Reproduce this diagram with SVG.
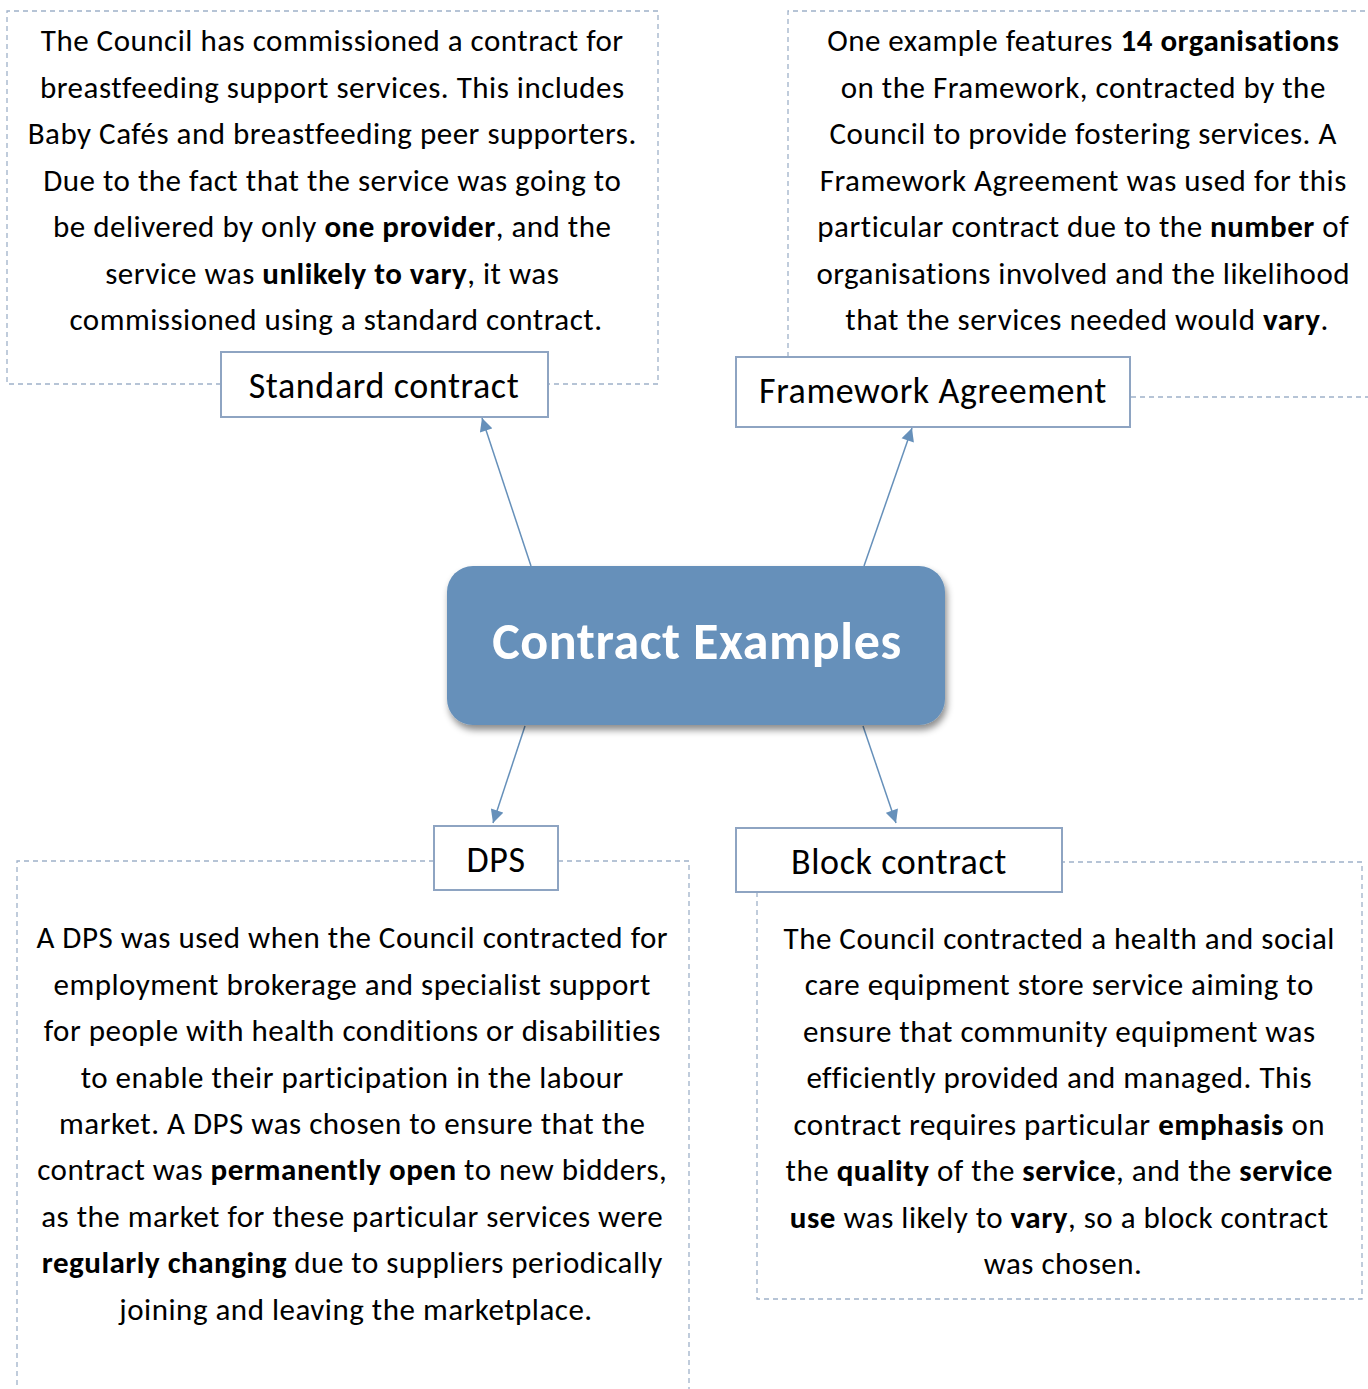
<svg xmlns="http://www.w3.org/2000/svg" width="1368" height="1389" viewBox="0 0 1368 1389">
<style>
.frame{fill:none;stroke:#9fb1c9;stroke-width:1.3;stroke-dasharray:5,4}
.node{fill:#fff;stroke:#8ea4c2;stroke-width:2}
.body{font-family:Carlito,Lato,"Liberation Sans",sans-serif;font-size:31px;letter-spacing:0.5px;fill:#000;text-anchor:middle}
.body tspan.b{font-weight:bold}
.lbl{font-family:Carlito,Lato,"Liberation Sans",sans-serif;font-size:36px;letter-spacing:0.6px;fill:#000;text-anchor:middle}
.title{font-family:Carlito,Lato,"Liberation Sans",sans-serif;font-size:52px;letter-spacing:0.6px;font-weight:bold;fill:#fff;text-anchor:middle}
.conn{stroke:#6690ba;stroke-width:1.5;fill:none;marker-end:url(#ah)}
</style>
<defs>
<marker id="ah" viewBox="0 0 10 10" refX="10" refY="5" markerWidth="15" markerHeight="13" markerUnits="userSpaceOnUse" orient="auto">
<path d="M0,0 L10,5 L0,10 z" fill="#6690ba"/>
</marker>
<filter id="sh" x="-10%" y="-10%" width="125%" height="135%">
<feDropShadow dx="2" dy="5" stdDeviation="3.5" flood-color="#000" flood-opacity="0.45"/>
</filter>
</defs>

<g id="connectors">
<line class="conn" x1="531" y1="566" x2="482" y2="418"/>
<line class="conn" x1="864" y1="566" x2="912" y2="428"/>
<line class="conn" x1="525" y1="726" x2="493" y2="823"/>
<line class="conn" x1="863" y1="726" x2="896" y2="823"/>
</g>

<g id="standard-text">
<path class="frame" d="M221,384 H7 V11 H658 V384 H548"/>
<text class="body">
<tspan x="336" y="51">The Council has commissioned a contract for</tspan>
<tspan x="336" y="98">breastfeeding support services. This includes</tspan>
<tspan x="336" y="144">Baby Cafés and breastfeeding peer supporters.</tspan>
<tspan x="336" y="191">Due to the fact that the service was going to</tspan>
<tspan x="336" y="237">be delivered by only <tspan class="b">one provider</tspan>, and the</tspan>
<tspan x="336" y="284">service was <tspan class="b">unlikely to vary</tspan>, it was</tspan>
<tspan x="336" y="330">commissioned using a standard contract.</tspan>
</text>
</g>

<g id="standard-contract">
<rect class="node" x="221" y="352" width="327" height="65"/>
<text class="lbl" x="384" y="398">Standard contract</text>
</g>

<g id="framework-text">
<path class="frame" d="M788,357 V11 H1368 M1131,397 H1368"/>
<text class="body">
<tspan x="1087" y="51">One example features <tspan class="b">14 organisations</tspan></tspan>
<tspan x="1087" y="98">on the Framework, contracted by the</tspan>
<tspan x="1087" y="144">Council to provide fostering services. A</tspan>
<tspan x="1087" y="191">Framework Agreement was used for this</tspan>
<tspan x="1087" y="237">particular contract due to the <tspan class="b">number</tspan> of</tspan>
<tspan x="1087" y="284">organisations involved and the likelihood</tspan>
<tspan x="1087" y="330">that the services needed would <tspan class="b">vary</tspan>.</tspan>
</text>
</g>

<g id="framework-agreement">
<rect class="node" x="736" y="357" width="394" height="70"/>
<text class="lbl" x="933" y="403">Framework Agreement</text>
</g>

<g id="contract-examples">
<rect x="447" y="566" width="498" height="159" rx="26" ry="26" fill="#6690ba" filter="url(#sh)"/>
<text class="title" x="697" y="659">Contract Examples</text>
</g>

<g id="dps-text">
<path class="frame" d="M434,861 H17 V1389 M558,861 H689 V1389"/>
<text class="body">
<tspan x="356" y="948">A DPS was used when the Council contracted for</tspan>
<tspan x="356" y="995">employment brokerage and specialist support</tspan>
<tspan x="356" y="1041">for people with health conditions or disabilities</tspan>
<tspan x="356" y="1088">to enable their participation in the labour</tspan>
<tspan x="356" y="1134">market. A DPS was chosen to ensure that the</tspan>
<tspan x="356" y="1180">contract was <tspan class="b">permanently open</tspan> to new bidders,</tspan>
<tspan x="356" y="1227">as the market for these particular services were</tspan>
<tspan x="356" y="1273"><tspan class="b">regularly changing</tspan> due to suppliers periodically</tspan>
<tspan x="356" y="1320">joining and leaving the marketplace.</tspan>
</text>
</g>

<g id="dps">
<rect class="node" x="434" y="826" width="124" height="64"/>
<text class="lbl" x="496" y="872">DPS</text>
</g>

<g id="block-text">
<path class="frame" d="M757,892 V1299 H1362 V862 H1062"/>
<text class="body">
<tspan x="1063" y="949">The Council contracted a health and social</tspan>
<tspan x="1063" y="995">care equipment store service aiming to</tspan>
<tspan x="1063" y="1042">ensure that community equipment was</tspan>
<tspan x="1063" y="1088">efficiently provided and managed. This</tspan>
<tspan x="1063" y="1135">contract requires particular <tspan class="b">emphasis</tspan> on</tspan>
<tspan x="1063" y="1181">the <tspan class="b">quality</tspan> of the <tspan class="b">service</tspan>, and the <tspan class="b">service</tspan></tspan>
<tspan x="1063" y="1228"><tspan class="b">use</tspan> was likely to <tspan class="b">vary</tspan>, so a block contract</tspan>
<tspan x="1063" y="1274">was chosen.</tspan>
</text>
</g>

<g id="block-contract">
<rect class="node" x="736" y="828" width="326" height="64"/>
<text class="lbl" x="899" y="874">Block contract</text>
</g>
</svg>
